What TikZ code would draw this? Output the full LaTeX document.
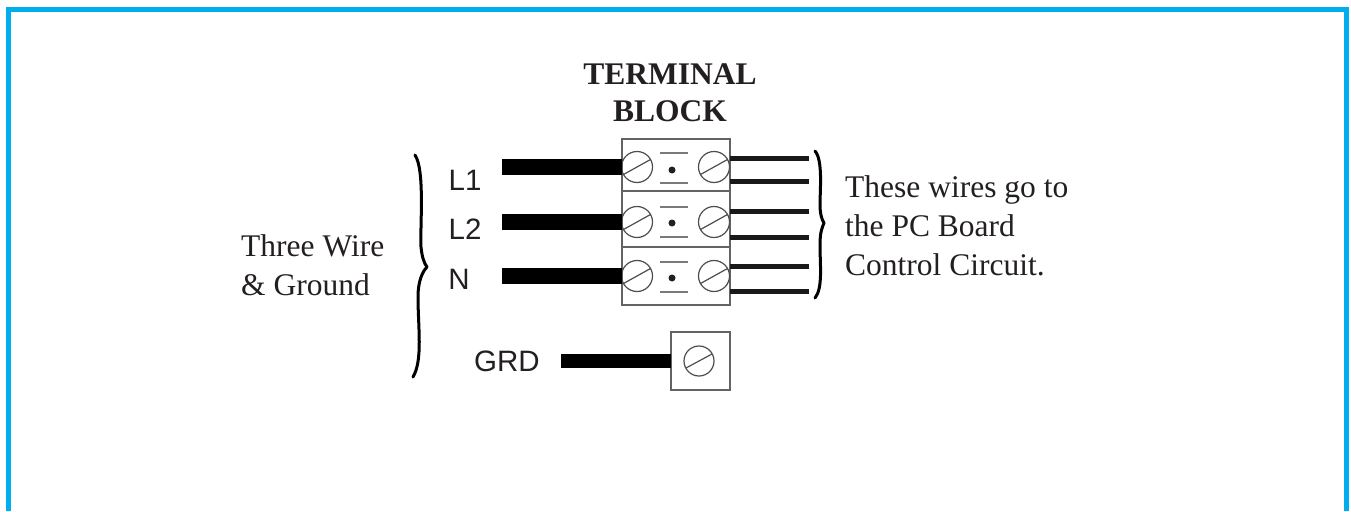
\documentclass[tikz,border=0pt]{standalone}
\usepackage{fontspec}
\setmainfont{Liberation Serif}
\newfontfamily\labelfont{Liberation Sans}
\usetikzlibrary{positioning,calc}
\definecolor{framecyan}{RGB}{0,174,239}
\definecolor{inkgrey}{RGB}{35,31,32}
\tikzset{
	blockbox/.style={draw=inkgrey!70, line width=1.3pt, minimum width=108pt, inner sep=0pt, outer sep=0pt},
	screw/.style={circle, draw=inkgrey!80, line width=1.2pt, minimum size=#1, inner sep=0pt, outer sep=0pt,
		path picture={\draw[inkgrey!80, line width=1.2pt] (path picture bounding box.south west)++(2pt,8pt) -- ($(path picture bounding box.north east)+(-2pt,-8pt)$);}},
	screw/.default=31pt,
	pin/.style={circle, fill=inkgrey, minimum size=7pt, inner sep=0pt},
	thick wire/.style={line width=#1, draw=black},
	thick wire/.default=16pt,
	thin wire/.style={line width=5pt, draw=black!90},
	tick/.style={line width=1.3pt, draw=inkgrey!60},
	brace/.style={line width=3pt, draw=black, line cap=round, line join=round},
	sans/.style={font=\labelfont\fontsize{29.5}{32}\selectfont, text=inkgrey, inner sep=0pt},
	serif/.style={font=\fontsize{31.5}{39}\selectfont, text=inkgrey, inner sep=0pt, align=left},
}
\begin{document}
\begin{tikzpicture}[x=1pt, y=-1pt]
	\useasboundingbox (0,0) rectangle (1351,511);
	% frame
	\draw[framecyan, line width=5pt, line join=miter] (8.5,511) -- (8.5,9.5) -- (1346.5,9.5) -- (1346.5,511);

	% terminal block
	\node[blockbox, minimum height=52pt] (block1) at (676,165) {};
	\node[blockbox, minimum height=56pt, below=0pt of block1] (block2) {};
	\node[blockbox, minimum height=58pt, below=0pt of block2] (block3) {};
	\node[blockbox, minimum width=59pt, minimum height=58pt] (grdbox) at (700.5,361) {};

	\node[screw] (s1l) at (637,167) {};
	\node[screw] (s2l) at (637,222) {};
	\node[screw] (s3l) at (637,276) {};
	\node[screw] (s1r) at (714,167) {};
	\node[screw] (s2r) at (714,222) {};
	\node[screw] (s3r) at (714,276) {};
	\node[screw=30pt] (sg) at (699,361) {};

	\node[pin] (p1) at (672,170) {};
	\node[pin] (p2) at (672,223) {};
	\node[pin] (p3) at (672,278) {};

	\draw[tick] ($(p1)+(-12,-17)$) -- ++(28,0);
	\draw[tick] ($(p1)+(-12,13)$) -- ++(28,0);
	\draw[tick] ($(p2)+(-12,-16)$) -- ++(28,0);
	\draw[tick] ($(p2)+(-12,14)$) -- ++(28,0);
	\draw[tick] ($(p3)+(-12,-16)$) -- ++(28,0);
	\draw[tick] ($(p3)+(-12,14)$) -- ++(28,0);

	% wires
	\coordinate (w1) at (502,167);
	\coordinate (w2) at (502,222);
	\coordinate (w3) at (502,276);
	\coordinate (wg) at (561,361);
	\draw[thick wire] (w1) -- (s1l.west);
	\draw[thick wire] (w2) -- (s2l.west);
	\draw[thick wire] (w3) -- (s3l.west);
	\draw[thick wire=14pt] (wg) -- (grdbox.west |- wg);

	\coordinate (r1) at (809,158);
	\coordinate (r2) at (809,181.5);
	\coordinate (r3) at (809,211.5);
	\coordinate (r4) at (809,237);
	\coordinate (r5) at (809,266);
	\coordinate (r6) at (809,291);
	\draw[thin wire] (r1) -- (block1.east |- r1);
	\draw[thin wire] (r2) -- (block1.east |- r2);
	\draw[thin wire] (r3) -- (block2.east |- r3);
	\draw[thin wire] (r4) -- (block2.east |- r4);
	\draw[thin wire] (r5) -- (block3.east |- r5);
	\draw[thin wire] (r6) -- (block3.east |- r6);

	% braces
	\coordinate (bl) at (427,267);
	\coordinate (br) at (824,223);
	\draw[brace] (415,155) .. controls (425,170) and (420,225) .. (421,247) .. controls (422,257) and (424,263) .. (bl)
		.. controls (422,272) and (418,282) .. (418,297) .. controls (418,327) and (423,360) .. (413,377);
	\draw[brace] (815,151) .. controls (823,160) and (820,190) .. (820,205) .. controls (820,214) and (822,220) .. (br)
		.. controls (822,228) and (820,232) .. (820,245) .. controls (820,265) and (823,288) .. (815,298);

	% labels
	\node[serif, font=\fontsize{31.5}{37}\selectfont\bfseries, align=center] (title) at (670,93) {TERMINAL\\BLOCK};
	\node[sans] (l1) at (465,180) {L1};
	\node[sans] (l2) at (465,229) {L2};
	\node[sans] (n) at (459,279) {N};
	\node[sans] (grd) at (507,361) {GRD};
	\node[serif, anchor=west] (three) at (241,265) {Three Wire\\\& Ground};
	\node[serif, anchor=west] (these) at (845,226) {These wires go to\\the PC Board\\Control Circuit.};
\end{tikzpicture}
\end{document}
